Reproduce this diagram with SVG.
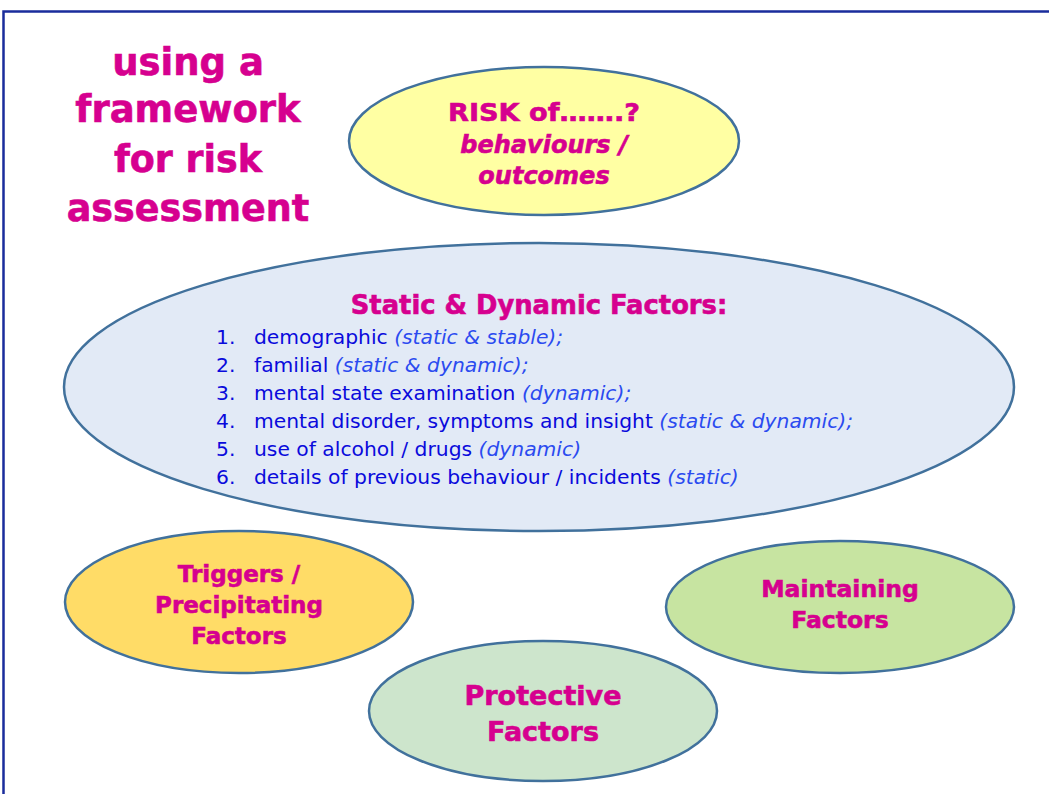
<svg xmlns="http://www.w3.org/2000/svg" width="1049" height="794" viewBox="0 0 1049 794">
<style>
.node{stroke:#41719C;stroke-width:2.5}
.h{font-family:"DejaVu Sans","Verdana",sans-serif;font-weight:bold;fill:#D6008F;stroke:#D6008F;stroke-width:0.6;text-anchor:middle}
.li{font-family:"DejaVu Sans","Verdana",sans-serif;font-size:20.3px;fill:#0A0ADC}
.it{font-style:italic;fill:#2B4BF0}
</style>
<rect width="1049" height="794" fill="#ffffff"/>
<rect x="3.5" y="11.5" width="1060" height="800" fill="none" stroke="#1A2C9C" stroke-width="2.5"/>
<g id="title">
<text class="h" font-size="37" x="188" y="75">using a</text>
<text class="h" font-size="37" x="188" y="122">framework</text>
<text class="h" font-size="36.5" x="188" y="172">for risk</text>
<text class="h" font-size="36.5" x="188" y="221">assessment</text>
</g>
<g id="connectors"/>
<g id="risk">
<ellipse class="node" cx="544" cy="141" rx="195" ry="74" fill="#FFFFA3"/>
<text class="h" font-size="25" x="544" y="121" textLength="192" lengthAdjust="spacingAndGlyphs">RISK of…….?</text>
<text class="h" font-size="24" x="544" y="153" font-style="italic">behaviours /</text>
<text class="h" font-size="24" x="544" y="184" font-style="italic">outcomes</text>
</g>
<g id="static">
<ellipse class="node" cx="539" cy="387" rx="475" ry="144" fill="#E2EAF6"/>
<text class="h" font-size="25.8" x="539" y="314">Static &amp; Dynamic Factors:</text>
<text class="li" x="216" y="344">1.</text>
<text class="li" x="216" y="372">2.</text>
<text class="li" x="216" y="400">3.</text>
<text class="li" x="216" y="428">4.</text>
<text class="li" x="216" y="456">5.</text>
<text class="li" x="216" y="484">6.</text>
<text class="li" x="254" y="344">demographic <tspan class="it">(static &amp; stable);</tspan></text>
<text class="li" x="254" y="372">familial <tspan class="it">(static &amp; dynamic);</tspan></text>
<text class="li" x="254" y="400">mental state examination <tspan class="it">(dynamic);</tspan></text>
<text class="li" x="254" y="428">mental disorder, symptoms and insight <tspan class="it">(static &amp; dynamic);</tspan></text>
<text class="li" x="254" y="456">use of alcohol / drugs <tspan class="it">(dynamic)</tspan></text>
<text class="li" x="254" y="484">details of previous behaviour / incidents <tspan class="it">(static)</tspan></text>
</g>
<g id="triggers">
<ellipse class="node" cx="239" cy="602" rx="174" ry="71" fill="#FFDC67"/>
<text class="h" font-size="23" x="239" y="582">Triggers /</text>
<text class="h" font-size="23" x="239" y="613">Precipitating</text>
<text class="h" font-size="23" x="239" y="644">Factors</text>
</g>
<g id="maintaining">
<ellipse class="node" cx="840" cy="607" rx="174" ry="66" fill="#C7E4A1"/>
<text class="h" font-size="23.5" x="840" y="597">Maintaining</text>
<text class="h" font-size="23.5" x="840" y="628">Factors</text>
</g>
<g id="protective">
<ellipse class="node" cx="543" cy="711" rx="174" ry="70" fill="#CDE5CC"/>
<text class="h" font-size="27" x="543" y="705">Protective</text>
<text class="h" font-size="27" x="543" y="741">Factors</text>
</g>
</svg>
